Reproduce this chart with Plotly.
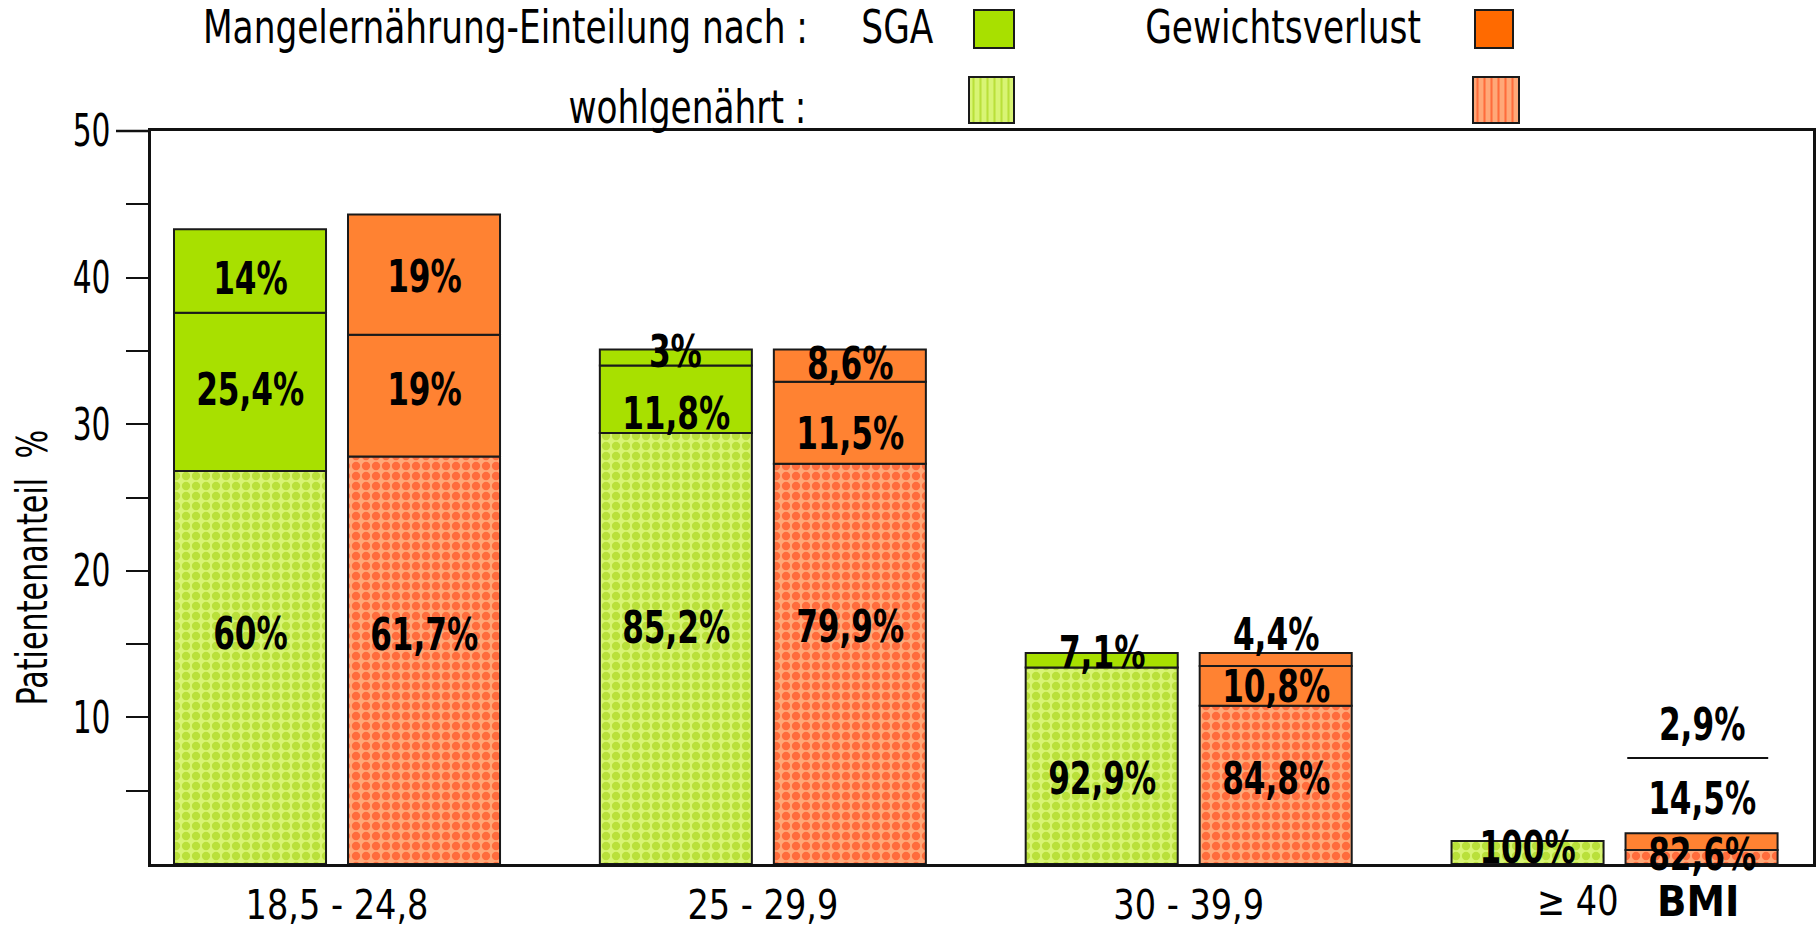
import json
import plotly.graph_objects as go

# ---------------- data ----------------
categories = ["18,5 - 24,8", "25 - 29,9", "30 - 39,9", "≥ 40"]
unit_label = "BMI"

# stacked segment heights (Patientenanteil %)
sga_wohl = [26.8, 29.4, 13.4, 1.57]   # SGA: wohlgenährt
sga_mid = [10.8, 4.6, None, None]     # SGA: malnourished (middle)
sga_top = [5.7, 1.1, 1.0, None]       # SGA: malnourished (top)
gv_wohl = [27.8, 27.3, 10.8, 0.95]    # Gewichtsverlust: wohlgenährt
gv_mid = [8.3, 5.6, 2.7, 1.14]        # Gewichtsverlust: middle
gv_top = [8.2, 2.2, 0.9, None]        # Gewichtsverlust: top

sga_wohl_text = ["60%", "85,2%", "92,9%", "100%"]
sga_mid_text = ["25,4%", "11,8%", "", ""]
sga_top_text = ["14%", "3%", "7,1%", ""]
gv_wohl_text = ["61,7%", "79,9%", "84,8%", "82,6%"]
gv_mid_text = ["19%", "11,5%", "10,8%", "14,5%"]
gv_top_text = ["19%", "8,6%", "4,4%", "2,9%"]

y_tick_values = [5, 10, 15, 20, 25, 30, 35, 40, 45, 50]
y_tick_text = ["", "10", "", "20", "", "30", "", "40", "", "50"]

legend_title = "Mangelernährung-Einteilung nach :"
legend_row2 = "wohlgenährt :"
legend_sga = "SGA"
legend_gv = "Gewichtsverlust"
y_title = "Patientenanteil  %"

# ---------------- styles / layout ----------------
W, H = 1818, 934
PL, PR, PT, PB = 151, 1813, 131, 864          # plot area in pixels
FONT = "Liberation Sans Narrow, Arial Narrow, DejaVu Sans Condensed, sans-serif"
BAR_W = 0.357
OFF = 0.2043
EDGE = dict(color="#1a1a1a", width=2)

GREEN = "#a8e000"
ORANGE = "#ff8232"
GREEN_PAT = dict(shape=".", fgcolor="#9acb00", bgcolor="#d8f474", size=10, solidity=0.55)
ORANGE_PAT = dict(shape=".", fgcolor="#ff3000", bgcolor="#ffa878", size=10, solidity=0.55)

# font sizes and horizontal condensing factors (emulate a narrow typeface)
FS_LABEL, FS_LEGEND, FS_XTICK, FS_YTICK, FS_YTITLE, FS_UNIT = 45, 46, 41, 44, 42, 43
CONDENSE = {FS_LABEL: 0.77, FS_LEGEND: 0.83, FS_XTICK: 0.91, FS_YTICK: 0.75, FS_YTITLE: 0.8}

# label vertical nudges (pixels, + = up)
sga_shift = {"wohl": [34, 21, -13, 5], "mid": [2, -14, 0, 0], "top": [-7, 6, 8, 0]}
gv_shift = {"wohl": [26, 37, 6, 3], "mid": [6, -11, -1, 43], "top": [-2, 2, 25, 109]}

fig = go.Figure()
annotations = []


def add_side(offset, segs, texts, shifts, solid_color, pat):
    n = len(categories)
    base = [0.0] * n
    for key, vals, txt in zip(["wohl", "mid", "top"], segs, texts):
        xs, ys, bs = [], [], []
        for i in range(n):
            v = vals[i]
            if v is not None:
                xs.append(i + offset)
                ys.append(v)
                bs.append(base[i])
        if key == "wohl":
            marker = dict(color=pat["bgcolor"], line=EDGE, pattern=pat)
        else:
            marker = dict(color=solid_color, line=EDGE)
        fig.add_trace(go.Bar(x=xs, y=ys, base=bs, width=BAR_W, marker=marker,
                             showlegend=False, hoverinfo="skip"))
        for i in range(n):
            v = vals[i]
            if txt[i]:
                yc = base[i] + v / 2 if v is not None else base[i]
                annotations.append(dict(
                    x=i + offset, y=yc, xref="x", yref="y", text="<b>%s</b>" % txt[i],
                    showarrow=False, yshift=shifts[key][i],
                    font=dict(family=FONT, size=FS_LABEL, color="#000")))
            if v is not None:
                base[i] += v


add_side(-OFF, [sga_wohl, sga_mid, sga_top],
         [sga_wohl_text, sga_mid_text, sga_top_text], sga_shift, GREEN, GREEN_PAT)
add_side(+OFF, [gv_wohl, gv_mid, gv_top],
         [gv_wohl_text, gv_mid_text, gv_top_text], gv_shift, ORANGE, ORANGE_PAT)

# ---- legend keys drawn on an auxiliary pixel-scaled axis pair ----
legend_keys = [
    (994, 10, 38, 40, dict(color=GREEN, line=EDGE)),
    (1494, 10, 38, 38, dict(color="#ff6a00", line=EDGE)),
    (991.5, 77, 46, 45, dict(color=GREEN_PAT["bgcolor"], line=EDGE,
                             pattern=dict(GREEN_PAT, shape="|", size=7, solidity=0.3))),
    (1496, 77, 46, 46, dict(color=ORANGE_PAT["bgcolor"], line=EDGE,
                            pattern=dict(ORANGE_PAT, shape="|", size=7, solidity=0.3))),
]
for xc, b, h, w, mk in legend_keys:
    fig.add_trace(go.Bar(x=[xc], y=[h], base=[b], width=w, marker=mk,
                         xaxis="x2", yaxis="y2", showlegend=False, hoverinfo="skip"))


def px_x(p):
    return (p - PL) / (PR - PL)


def px_y(p):
    return (PB - p) / PB


txt_font = dict(family=FONT, size=FS_LEGEND, color="#000")
annotations += [
    dict(x=px_x(505), y=px_y(27), xref="paper", yref="paper", xanchor="center",
         yanchor="middle", text=legend_title, showarrow=False, font=txt_font),
    dict(x=px_x(897), y=px_y(27), xref="paper", yref="paper", xanchor="center",
         yanchor="middle", text=legend_sga, showarrow=False, font=txt_font),
    dict(x=px_x(1283), y=px_y(27), xref="paper", yref="paper", xanchor="center",
         yanchor="middle", text=legend_gv, showarrow=False, font=txt_font),
    dict(x=px_x(687), y=px_y(107), xref="paper", yref="paper", xanchor="center",
         yanchor="middle", text=legend_row2, showarrow=False, font=txt_font),
    dict(x=px_x(32), y=px_y(568), xref="paper", yref="paper", xanchor="center",
         yanchor="middle", text=y_title, textangle=-90, showarrow=False,
         font=dict(family=FONT, size=FS_YTITLE, color="#000")),
    dict(x=3, y=px_y(901), xref="x", yref="paper", xanchor="center", yanchor="middle",
         xshift=-37, text=categories[3], showarrow=False,
         font=dict(family=FONT, size=FS_XTICK, color="#000")),
    dict(x=3, y=px_y(901), xref="x", yref="paper", xanchor="center", yanchor="middle",
         xshift=83, text="<b>%s</b>" % unit_label, showarrow=False,
         font=dict(family=FONT, size=FS_UNIT, color="#000")),
]

shapes = [
    # top frame line extends left over the "50" label
    dict(type="line", xref="paper", yref="paper", x0=px_x(116), x1=0,
         y0=px_y(PT), y1=px_y(PT), line=dict(color="#111", width=2.5)),
    # separator line above the BMI >= 40 weight-loss bar
    dict(type="line", xref="x", yref="paper", x0=3 + OFF - BAR_W / 2 + 0.004,
         x1=3 + OFF + BAR_W / 2 - 0.022, y0=px_y(758), y1=px_y(758),
         line=dict(color="#111", width=2)),
]

fig.update_layout(
    width=W, height=H,
    margin=dict(l=PL, r=W - PR, t=0, b=H - PB, pad=0, autoexpand=False),
    paper_bgcolor="white", plot_bgcolor="white",
    barmode="overlay",
    font=dict(family=FONT, color="#000"),
    xaxis=dict(range=[-0.4368, 3.466], showline=True, mirror=True, linecolor="#111",
               linewidth=2.5, tickvals=[0, 1, 2], ticktext=categories[:3], ticks="",
               tickfont=dict(family=FONT, size=FS_XTICK, color="#000"), showgrid=False,
               zeroline=False, ticklabelstandoff=3, fixedrange=True, automargin=False),
    yaxis=dict(domain=[0, (PB - PT) / PB], range=[0, 50], tickvals=y_tick_values,
               ticktext=y_tick_text, ticks="outside", ticklen=22, tickwidth=2,
               tickcolor="#111", showline=True, mirror=True, linecolor="#111",
               linewidth=2.5, showgrid=False, zeroline=False,
               tickfont=dict(family=FONT, size=FS_YTICK, color="#000"),
               ticklabelstandoff=7, ticklabelshift=0, fixedrange=True, automargin=False),
    xaxis2=dict(domain=[0, 1], anchor="y2", range=[PL, PR], visible=False,
                fixedrange=True, automargin=False),
    yaxis2=dict(domain=[(PB - PT) / PB, 1], anchor="x2", range=[PT, 0], visible=False,
                fixedrange=True, automargin=False),
    annotations=annotations,
    shapes=shapes,
)

condense_js = (
    "document.body.style.margin='0';document.body.style.overflow='hidden';"
    "var gd=document.getElementById('{plot_id}');var f=%s;"
    "gd.querySelectorAll('svg text').forEach(function(t){"
    "var fs=Math.round(parseFloat(window.getComputedStyle(t).fontSize));"
    "var k=f[fs];if(!k)return;var w=t.getComputedTextLength();"
    "if(w>0){t.setAttribute('textLength',(w*k).toFixed(2));"
    "t.setAttribute('lengthAdjust','spacingAndGlyphs');}});"
) % json.dumps({str(k): v for k, v in CONDENSE.items()})

fig.write_html("out.html", config={"displayModeBar": False}, post_script=condense_js)
